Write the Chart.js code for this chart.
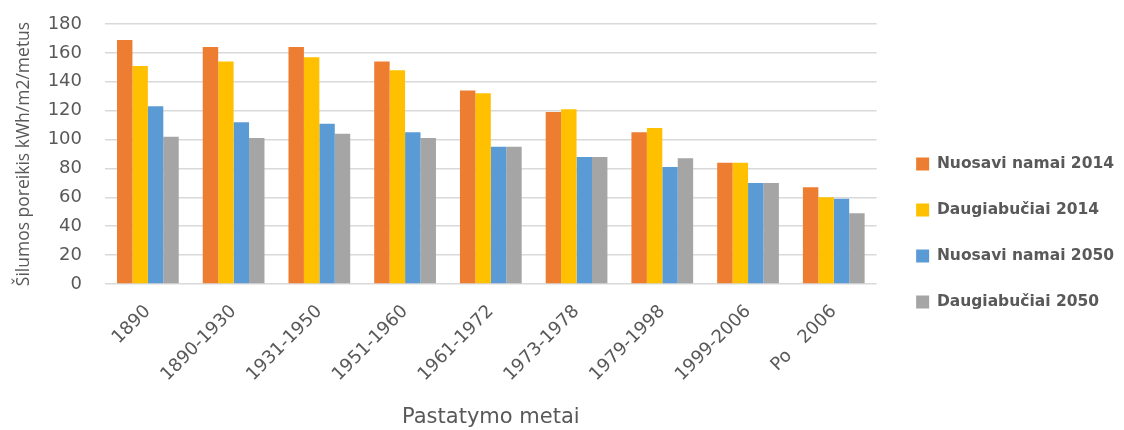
<!DOCTYPE html>
<html>
<head>
<meta charset="utf-8">
<script src="https://cdn.jsdelivr.net/npm/chart.js@4"></script>
<style>
  html, body { margin: 0; padding: 0; background: #fff; }
  #wrap { width: 1124px; height: 430px; }
</style>
</head>
<body>
<div id="wrap"><canvas id="heatChart" width="1124" height="430"></canvas></div>
<script>
// Data
const periods = ['1890', '1890-1930', '1931-1950', '1951-1960', '1961-1972', '1973-1978', '1979-1998', '1999-2006', 'Po   2006'];
const privateHouses2014 = [169, 164, 164, 154, 134, 119, 105, 84, 67];
const apartments2014 = [151, 154, 157, 148, 132, 121, 108, 84, 60];
const privateHouses2050 = [123, 112, 111, 105, 95, 88, 81, 70, 59];
const apartments2050 = [102, 101, 104, 101, 95, 88, 87, 70, 49];
const yTicks = [0, 20, 40, 60, 80, 100, 120, 140, 160, 180];

const textGrey = '#595959';

// push the legend a little to the right of the gap it leaves next to the plot
const shiftLegend = {
    id: 'shiftLegend',
    afterLayout(chart) {
        chart.legend.left += 9;
        chart.legend.right += 9;
    }
};

const ctx = document.getElementById('heatChart').getContext('2d');
const heatChart = new Chart(ctx, {
    type: 'bar',
    data: {
        labels: periods,
        datasets: [{
            label: 'Nuosavi namai 2014',
            data: privateHouses2014,
            backgroundColor: '#ED7D31'
        }, {
            label: 'Daugiabučiai 2014',
            data: apartments2014,
            backgroundColor: '#FFC000'
        }, {
            label: 'Nuosavi namai 2050',
            data: privateHouses2050,
            backgroundColor: '#5B9BD5'
        }, {
            label: 'Daugiabučiai 2050',
            data: apartments2050,
            backgroundColor: '#A5A5A5'
        }]
    },
    plugins: [shiftLegend],
    options: {
        responsive: false,
        animation: false,
        layout: {
            padding: { top: 24, left: 14, right: 9, bottom: 0 }
        },
        datasets: {
            bar: {
                categoryPercentage: 0.72,
                barPercentage: 1.0
            }
        },
        scales: {
            x: {
                grid: { display: false },
                border: { display: false },
                ticks: {
                    color: textGrey,
                    font: { family: 'DejaVu Sans', size: 18 },
                    minRotation: 45,
                    maxRotation: 45,
                    padding: 9
                },
                title: {
                    display: true,
                    text: 'Pastatymo metai',
                    color: textGrey,
                    font: { family: 'DejaVu Sans', size: 21 },
                    padding: { top: 4, bottom: 0 }
                },
                afterFit: function(scale) { scale.height = 146; }
            },
            y: {
                min: 0,
                max: 180,
                afterBuildTicks: function(scale) {
                    scale.ticks = yTicks.map(v => ({ value: v }));
                },
                grid: { color: '#D9D9D9', lineWidth: 1.5, drawTicks: false },
                border: { display: false },
                ticks: {
                    color: textGrey,
                    font: { family: 'DejaVu Sans', size: 18 },
                    padding: 23
                },
                title: {
                    display: true,
                    text: 'Šilumos poreikis kWh/m2/metus',
                    color: textGrey,
                    font: { family: 'Open Sans', size: 17.5 },
                    padding: { top: 0, bottom: 0 }
                },
                afterFit: function(scale) {
                    scale.width = 91;
                    scale.paddingTop = 10;
                    scale.paddingBottom = 10;
                }
            }
        },
        plugins: {
            legend: {
                position: 'right',
                align: 'center',
                title: {
                    display: true,
                    text: ' ',
                    font: { size: 10 },
                    padding: 0
                },
                labels: {
                    color: textGrey,
                    font: { family: 'DejaVu Sans', size: 15.5, weight: 'bold' },
                    boxWidth: 13,
                    boxHeight: 13,
                    padding: 30.5
                }
            },
            tooltip: { enabled: false }
        }
    }
});
</script>
</body>
</html>
